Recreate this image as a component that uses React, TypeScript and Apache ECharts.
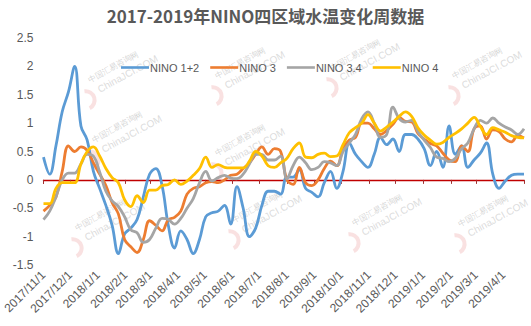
import React, { useEffect, useRef } from "react";
import * as echarts from "echarts";

const weeks = [
  "2017-11-01", "2017-11-08", "2017-11-15", "2017-11-22", "2017-11-29", "2017-12-06", "2017-12-13", "2017-12-20", "2017-12-27",
  "2018-01-03", "2018-01-10", "2018-01-17", "2018-01-24", "2018-01-31", "2018-02-07", "2018-02-14", "2018-02-21", "2018-02-28",
  "2018-03-07", "2018-03-14", "2018-03-21", "2018-03-28", "2018-04-04", "2018-04-11", "2018-04-18", "2018-04-25", "2018-05-02",
  "2018-05-09", "2018-05-16", "2018-05-23", "2018-05-30", "2018-06-06", "2018-06-13", "2018-06-20", "2018-06-27", "2018-07-04",
  "2018-07-11", "2018-07-18", "2018-07-25", "2018-08-01", "2018-08-08", "2018-08-15", "2018-08-22", "2018-08-29", "2018-09-05",
  "2018-09-12", "2018-09-19", "2018-09-26", "2018-10-03", "2018-10-10", "2018-10-17", "2018-10-24", "2018-10-31", "2018-11-07",
  "2018-11-14", "2018-11-21", "2018-11-28", "2018-12-05", "2018-12-12", "2018-12-19", "2018-12-26", "2019-01-02", "2019-01-09",
  "2019-01-16", "2019-01-23", "2019-01-30", "2019-02-06", "2019-02-13", "2019-02-20", "2019-02-27", "2019-03-06", "2019-03-13",
  "2019-03-20", "2019-03-27", "2019-04-03", "2019-04-10", "2019-04-17", "2019-04-24",
];

const nino12 = [
  0.4, 0.1, 0.6, 1.2, 1.55, 2.0, 0.95, 0.7, 0.15, -0.15,
  -0.45, -0.8, -1.3, -0.95, -0.85, -0.7, -0.3, 0.1, 0.2, -0.1,
  -0.8, -1.2, -0.9, -1.05, -1.3, -1.05, -0.65, -0.58, -0.55, -0.45,
  -0.78, -0.12, -0.5, -1.0, -0.85, -0.45, -0.2, -0.2, -0.25, 0.05,
  0.05, 0.18, -0.15, -0.22, -0.3, -0.05, 0.15, -0.15, 0.15, 0.65,
  0.45, 0.32, 0.22, 0.45, 0.75, 0.62, 0.72, 0.5, 0.8, 0.8,
  0.72, 0.55, 0.25, 0.5, 0.22, 0.95, 0.45, 0.6, 0.22, 0.35,
  0.47, 0.65, 0.1, -0.15, -0.02, 0.08, 0.1, 0.1,
];

const nino3 = [
  -0.55, -0.45, -0.3, 0.15, 0.6, 0.5, 0.58, 0.52, 0.3, 0.1,
  -0.1, -0.4, -0.6, -1.05, -1.18, -1.28, -1.05, -0.72, -0.8, -0.9,
  -0.7, -0.66, -0.55, -0.25, -0.15, -0.12, -0.05, -0.03, -0.05, 0.0,
  0.08, 0.1, 0.2, 0.3, 0.45, 0.58, 0.45, 0.55, 0.5, 0.0,
  -0.08, 0.22, -0.05, -0.1, 0.0, 0.2, 0.33, 0.25, 0.55, 0.7,
  0.75, 1.0, 1.0, 0.9, 0.8, 0.87, 0.98, 1.1, 1.03, 1.02,
  0.82, 0.72, 0.64, 0.6, 0.47, 0.35, 0.32, 0.6, 0.5, 0.9,
  0.95, 0.72, 0.88, 0.85, 0.72, 0.67, 0.78, 0.74,
];

const nino34 = [
  -0.7, -0.55, -0.3, 0.0, 0.12, 0.12, 0.28, 0.45, 0.42, 0.14,
  -0.2, -0.37, -0.47, -0.65, -0.88, -0.93, -1.1, -1.05, -0.85, -0.68,
  -0.7, -0.78, -0.68, -0.5, -0.33, -0.05, 0.15, -0.02, 0.04, 0.08,
  0.03, 0.02, 0.1, 0.28, 0.45, 0.45, 0.35, 0.35, 0.42, 0.02,
  0.25, 0.4, 0.3, 0.18, 0.22, 0.32, 0.3, 0.25, 0.5, 0.65,
  0.8, 1.08, 1.2, 1.0, 0.75, 0.8, 1.28, 1.08, 1.02, 1.05,
  0.85, 0.7, 0.57, 0.4, 0.38, 0.32, 0.38, 0.55, 0.65, 0.9,
  1.05, 1.0, 1.09, 1.0, 0.93, 0.88, 0.8, 0.9,
];

const nino4 = [
  -0.42, -0.42, -0.15, -0.05, -0.05, -0.05, 0.28, 0.5, 0.58, 0.42,
  0.2, 0.04, -0.05, -0.35, -0.47, -0.28, -0.4, -0.18, -0.18, -0.1,
  -0.08, 0.0, -0.08, -0.02, 0.08, 0.2, 0.4, 0.22, 0.27, 0.22,
  0.21, 0.21, 0.21, 0.33, 0.5, 0.42, 0.25, 0.22, 0.3, 0.38,
  0.55, 0.65, 0.4, 0.39, 0.45, 0.47, 0.41, 0.42, 0.62, 0.83,
  0.92, 1.0, 1.15, 1.0, 0.86, 0.93, 1.02, 1.12, 1.2, 1.12,
  0.92, 0.79, 0.7, 0.63, 0.66, 0.75, 0.82, 0.9, 1.0, 1.1,
  0.94, 0.8, 0.92, 0.88, 0.84, 0.78, 0.75, 0.74,
];

const seriesNames = ["NINO 1+2", "NINO 3", "NINO 3.4", "NINO 4"];
const seriesColors = ["#5B9BD5", "#ED7D31", "#A5A5A5", "#FFC000"];
const seriesValues = [nino12, nino3, nino34, nino4];

const titleText = "2017-2019年NINO四区域水温变化周数据";

export default function App() {
  const ref = useRef<HTMLDivElement>(null);

  useEffect(() => {
    const chart = echarts.init(ref.current as HTMLDivElement, null, { renderer: "svg" });
    const axisMin = new Date(2017, 10, 1).getTime();
    const axisMax = new Date(2019, 3, 24).getTime();
    const day = 86400000;
    const fmt = (v: number) => {
      const d = new Date(v);
      return `${d.getFullYear()}/${d.getMonth() + 1}/${d.getDate()}`;
    };

    const wmSpots = [
      [88, 92], [215, 88], [330, 80], [452, 88],
      [92, 152], [215, 165],
      [75, 240], [232, 232], [352, 235], [458, 236],
    ];
    const watermarks = wmSpots.map(([x, y]) => ({
      type: "group",
      x,
      y,
      rotation: 0.5,
      silent: true,
      children: [
        { type: "text", x: 6, y: -14, style: { text: "中国汇易咨询网", fill: "#b8b8b8", fontSize: 8, opacity: 0.6 } },
        { type: "text", x: 10, y: -2, style: { text: "ChinaJCI.COM", fill: "#c4c4c4", fontSize: 10, opacity: 0.6, fontFamily: "Liberation Sans" } },
        { type: "arc", x: -6, y: 6, shape: { cx: 0, cy: 0, r: 9, startAngle: -1.2, endAngle: 1.6 }, style: { stroke: "#f4c8c8", lineWidth: 4, fill: "none", opacity: 0.55 } },
      ],
    }));

    chart.setOption({
      animation: false,
      backgroundColor: "#ffffff",
      textStyle: { fontFamily: "Liberation Sans" },
      title: {
        text: titleText,
        left: "center",
        top: 2,
        textStyle: { fontSize: 17, fontWeight: "bold", color: "#595959", fontFamily: "Noto Sans CJK SC" },
      },
      legend: {
        data: seriesNames,
        left: 116,
        top: 57,
        itemWidth: 28,
        itemHeight: 10,
        itemGap: 11,
        icon: "path://M0,3.7 L28,3.7 L28,6.3 L0,6.3 Z",
        textStyle: { fontSize: 11, color: "#595959", padding: [0, 0, 0, -4] },
      },
      graphic: watermarks,
      grid: { left: 40, right: 7, top: 38, bottom: 61 },
      xAxis: [
        {
          type: "time",
          min: axisMin,
          max: axisMax,
          minInterval: 28 * day,
          maxInterval: 31 * day,
          axisLine: { onZero: true, lineStyle: { color: "#C00000", width: 1.3 } },
          axisTick: { show: true, length: 4, lineStyle: { color: "#A03030" } },
          axisLabel: { show: false },
          splitLine: { show: false },
        },
        {
          type: "time",
          min: axisMin,
          max: axisMax,
          minInterval: 28 * day,
          maxInterval: 31 * day,
          position: "bottom",
          axisLine: { show: false, onZero: false },
          axisTick: { show: false },
          splitLine: { show: false },
          axisLabel: {
            rotate: 45,
            margin: 8,
            fontSize: 12,
            color: "#595959",
            showMaxLabel: false,
            hideOverlap: false,
            formatter: (v: number) => fmt(v),
          },
        },
      ],
      yAxis: {
        type: "value",
        min: -1.5,
        max: 2.5,
        interval: 0.5,
        axisLine: { show: false },
        axisTick: { show: false },
        splitLine: { show: false },
        axisLabel: { fontSize: 12, color: "#595959", margin: 10 },
      },
      series: seriesNames.map((name, k) => ({
        name,
        type: "line",
        xAxisIndex: 0,
        data: weeks.map((w, i) => [w, seriesValues[k][i]]),
        smooth: 0.4,
        symbol: "none",
        showSymbol: false,
        lineStyle: { width: 2.8, color: seriesColors[k] },
        itemStyle: { color: seriesColors[k] },
      })),
    });

    return () => chart.dispose();
  }, []);

  return (
    <div
      ref={ref}
      style={{ position: "fixed", left: 0, top: 0, width: 531, height: 326, background: "#fff" }}
    />
  );
}
